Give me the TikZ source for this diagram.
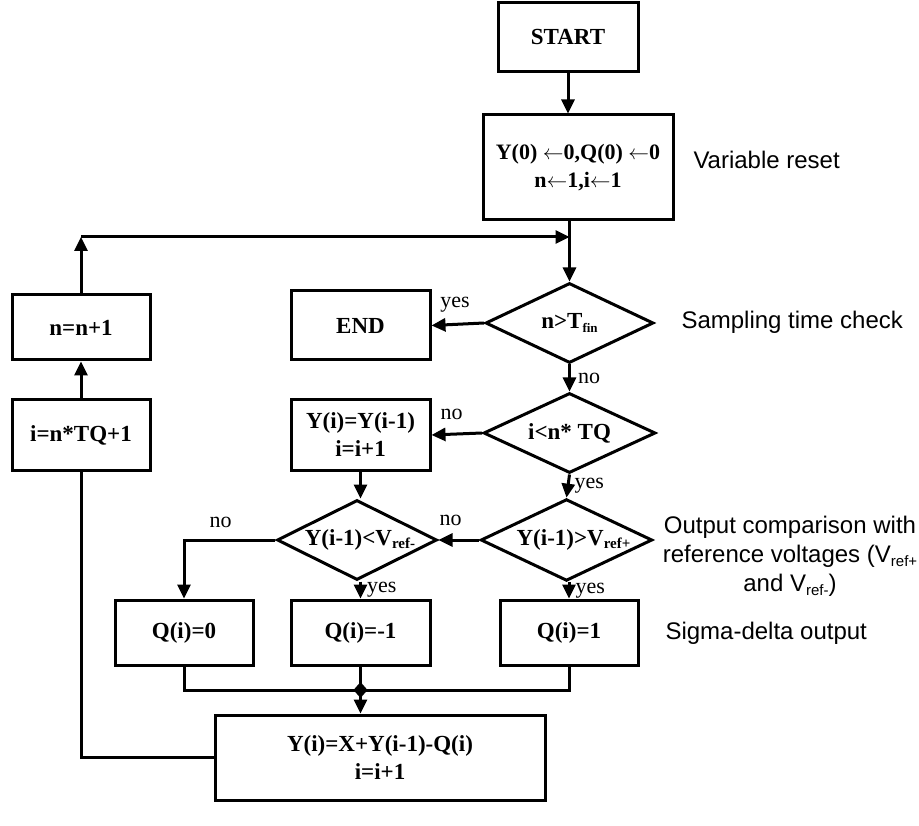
\documentclass[tikz,border=0pt]{standalone}
\usepackage{fontspec}
\setmainfont{Liberation Serif}
\newfontfamily\labelfont{Liberation Sans}
\usetikzlibrary{arrows.meta,shapes.geometric}
\newcommand\lowsub[1]{\raisebox{-0.35ex}{\fontsize{13}{13}\selectfont #1}}
\newcommand\refsub[1]{\raisebox{-0.3ex}{\fontsize{15}{15}\selectfont #1}}
\begin{document}
\begin{tikzpicture}[x=1pt,y=-1pt,
  line width=3pt,
  arr/.style={-{Triangle[length=14pt,width=13pt]}},
  procbox/.style={draw, rectangle, inner sep=0pt, align=center,
    font=\bfseries\fontsize{23}{28}\selectfont},
  decbox/.style={draw, diamond, inner sep=0pt, aspect=2.1,
    minimum width=168pt, minimum height=80pt,
    font=\bfseries\fontsize{23}{25}\selectfont},
  ynlab/.style={font=\fontsize{22}{24}\selectfont, inner sep=1pt},
  sidelab/.style={font=\labelfont\fontsize{24}{29}\selectfont, align=center, inner sep=0pt}]
\useasboundingbox (0,0) rectangle (919,826);
% process boxes
\node[procbox, minimum width=140pt, minimum height=69pt] (start) at (568,37.5) {START};
\node[procbox, minimum width=190pt, minimum height=105pt, font=\bfseries\fontsize{22}{28}\selectfont] (reset) at (578,167.5)
  {Y(0) $\leftarrow$0,Q(0) $\leftarrow$0\\ n$\leftarrow$1,i$\leftarrow$1};
\node[decbox] (dfin) at (569.5,323) {n>T\lowsub{fin}};
\node[procbox, minimum width=139pt, minimum height=69pt] (end) at (360.5,325.5) {END};
\node[decbox, minimum width=172pt] (dtq) at (569.5,433) {i<n* TQ};
\node[procbox, minimum width=139pt, minimum height=70pt] (yy) at (360.5,435) {Y(i)=Y(i-1)\\ i=i+1};
\node[decbox, minimum width=167pt, minimum height=80pt] (dplus) at (566.5,540) {\hspace*{14pt}Y(i-1)>V\refsub{ref+}};
\node[decbox, minimum width=148pt, minimum height=80pt] (dminus) at (357,540) {\hspace*{6pt}Y(i-1)<V\refsub{ref-}};
\node[procbox, minimum width=138pt, minimum height=65pt] (qzero) at (184,632.5) {Q(i)=0};
\node[procbox, minimum width=139pt, minimum height=65pt] (qneg) at (360.5,632.5) {Q(i)=-1};
\node[procbox, minimum width=138pt, minimum height=65pt] (qpos) at (569,632.5) {Q(i)=1};
\node[procbox, minimum width=330pt, minimum height=85pt] (upd) at (380,757.5) {Y(i)=X+Y(i-1)-Q(i)\\ i=i+1};
\node[procbox, minimum width=138pt, minimum height=65pt] (ninc) at (81,327.5) {n=n+1};
\node[procbox, minimum width=138pt, minimum height=70pt] (iset) at (81,435) {i=n*TQ+1};
% side labels
\node[sidelab, anchor=west] (lreset) at (692,160) {Variable reset};
\node[sidelab, anchor=west] (lsamp) at (680,322) {Sampling time check};
\node[sidelab] (lcomp) at (790,556) {Output comparison with\\ reference voltages (V\refsub{ref+}\\ and V\refsub{ref-})};
\node[sidelab, anchor=west] (lsig) at (664,633) {Sigma-delta output};
% connectors
\coordinate (loopc) at (81,237);
\coordinate (merge) at (360.5,690);
\draw[arr] (start.south) -- (start.south |- reset.north);
\draw (dfin.north |- reset.south) -- (dfin.north |- loopc);
\draw[arr] (dfin.north |- loopc) -- (dfin.north);
\draw[arr] (iset.north) -- (ninc.south);
\draw[arr] (ninc.north) -- (loopc);
\draw[arr] (loopc) -- (dfin.north |- loopc);
\draw[arr] (dfin.west) -- (end.east) node[ynlab, pos=0.55, above=10pt] {yes};
\draw[arr] (dfin.south) -- (dtq.north) node[ynlab, midway, right=6pt] {no};
\draw[arr] (dtq.west) -- (yy.east) node[ynlab, pos=0.6, above=12pt] {no};
\draw[arr] (dtq.south) -- (dplus.north) node[ynlab, midway, right=4pt] {yes};
\draw[arr] (yy.south) -- (yy.south |- dminus.north);
\draw[arr] (dplus.west) -- (dminus.east) node[ynlab, pos=0.7, above=12pt] {no};
\draw[arr] (dminus.west) -| (qzero.north) node[ynlab, pos=0.3, above=10pt] {no};
\draw[arr] (dminus.south -| qneg.north) -- (qneg.north) node[ynlab, midway, right=4pt] {yes};
\draw[arr] (dplus.south -| qpos.north) -- (qpos.north) node[ynlab, midway, right=4pt] {yes};
\draw (qzero.south) |- (merge);
\draw (qpos.south) |- (merge);
\draw (qneg.south) -- (merge);
\draw[arr] (merge) -- (merge |- upd.north);
\fill (merge) ++(0,-8) -- ++(7,8) -- ++(-7,8) -- ++(-7,-8) -- cycle;
\draw (upd.west) -| (iset.south);
\end{tikzpicture}
\end{document}
